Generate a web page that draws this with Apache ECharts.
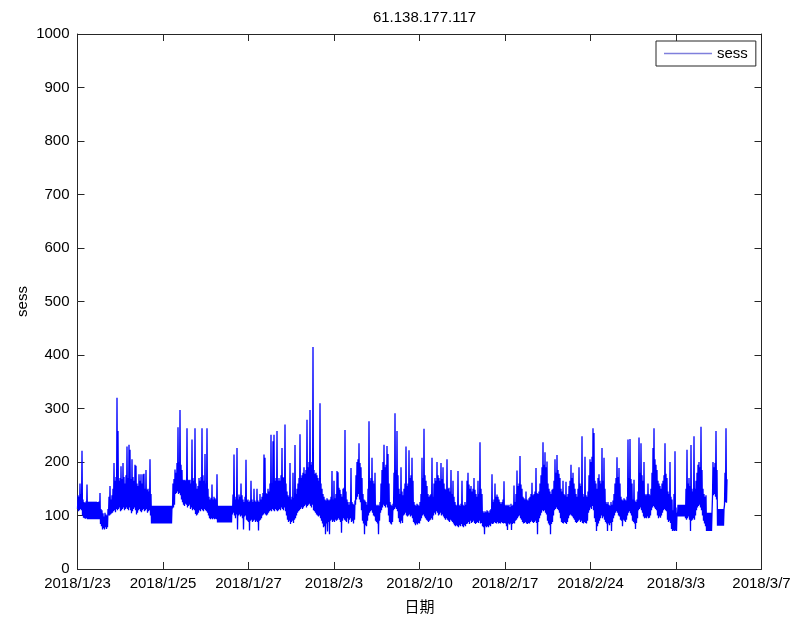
<!DOCTYPE html>
<html>
<head>
<meta charset="utf-8">
<title>61.138.177.117</title>
<script src="https://cdn.jsdelivr.net/npm/echarts@6/dist/echarts.min.js"></script>
<style>
  html, body { margin: 0; padding: 0; background: #fff; }
  #chart { width: 807px; height: 619px; }
</style>
</head>
<body>
<div id="chart"></div>
<script>
// Date labels placed at evenly spaced ticks along the sample axis
const tickLabels = ['2018/1/23', '2018/1/25', '2018/1/27', '2018/2/3', '2018/2/10',
  '2018/2/17', '2018/2/24', '2018/3/3', '2018/3/7'];

// Session counts: lower and upper value reached within each sampling slot
const sessLow = [
  112,108,110,112,110,100,96,95,94,95,
  93,93,93,93,93,93,93,93,93,93,
  93,93,93,84,80,74,76,74,78,75,
  78,100,100,102,104,105,108,110,106,112,
  110,112,115,108,110,112,115,110,112,115,
  112,110,115,110,104,108,112,115,110,102,
  105,110,112,108,106,110,112,108,110,112,
  105,108,110,100,85,85,85,85,85,85,
  85,85,85,85,85,85,85,85,85,85,
  85,85,85,85,85,113,115,120,140,142,
  145,140,142,138,130,125,120,118,122,120,
  115,118,120,112,115,110,112,110,103,100,
  102,105,110,108,112,110,108,112,110,108,
  105,100,95,93,95,93,95,93,94,93,
  87,87,87,87,87,87,87,87,87,87,
  87,87,87,87,87,102,105,100,95,102,
  74,100,102,98,100,95,74,98,100,92,
  90,88,72,90,92,88,90,92,88,90,
  88,72,90,92,95,100,102,104,102,100,
  102,105,108,110,108,112,110,108,112,110,
  108,110,112,110,115,112,110,115,108,100,
  92,88,90,84,88,90,86,92,95,100,
  105,108,110,112,115,112,115,118,120,115,
  118,120,122,118,115,120,110,108,105,102,
  100,98,100,95,90,85,78,80,65,85,
  70,88,65,90,92,88,90,88,92,90,
  92,95,92,88,68,90,95,92,90,88,
  95,85,92,95,88,90,85,92,120,130,
  135,140,130,125,110,90,85,65,82,80,
  90,100,105,108,110,105,100,98,90,88,
  85,65,90,105,110,115,120,118,115,120,
  115,100,88,85,83,88,110,112,115,112,
  108,95,88,85,90,86,100,102,105,100,
  98,100,102,98,100,95,88,85,82,85,
  83,86,85,90,95,100,102,98,95,92,
  90,88,90,92,95,92,100,105,102,108,
  105,100,102,105,100,102,98,95,92,95,
  92,90,88,92,90,88,85,82,80,82,
  80,78,82,80,84,80,78,82,80,84,
  85,88,84,90,86,88,90,86,84,86,
  88,86,90,85,86,80,78,65,80,78,
  80,78,82,80,85,84,85,88,86,85,
  88,85,86,85,88,86,85,86,85,80,
  73,85,83,85,73,84,86,85,90,92,
  95,98,100,95,92,88,85,86,88,85,
  84,86,85,88,90,88,86,88,90,86,
  65,88,95,100,105,110,108,110,105,102,
  90,85,82,65,84,88,100,110,112,115,
  112,110,105,95,88,86,85,88,86,84,
  88,95,100,102,100,98,95,92,88,86,
  88,90,92,88,90,86,85,88,86,85,
  90,105,110,115,112,118,110,95,88,71,
  80,85,90,95,100,95,98,92,88,85,
  71,85,82,86,71,88,95,100,105,108,
  105,100,98,92,90,80,92,90,88,92,
  100,105,108,104,100,90,88,85,75,86,
  95,110,112,115,110,105,98,95,96,95,
  98,95,96,100,110,115,118,115,112,110,
  100,95,98,96,100,105,110,112,110,108,
  92,88,90,86,75,71,72,71,72,71,
  98,98,98,98,98,98,98,98,95,92,
  95,98,92,71,90,92,95,92,100,110,
  115,118,120,115,110,100,90,85,80,71,
  71,71,71,71,71,135,138,140,135,130,
  81,81,81,81,81,81,81,120,125,124
];

const sessHigh = [
  138,135,160,140,221,130,125,124,126,158,
  126,125,126,125,126,125,126,125,126,125,
  125,126,142,112,110,104,98,105,102,100,
  112,135,155,130,138,150,198,165,172,320,
  258,165,170,192,168,198,172,160,175,229,
  170,232,223,168,205,172,165,195,193,160,
  155,177,165,177,160,177,178,150,185,148,
  150,145,205,140,118,118,118,118,118,118,
  118,118,118,118,118,118,118,118,118,118,
  118,118,118,118,118,160,168,186,180,198,
  265,200,297,195,185,167,166,167,165,263,
  167,166,167,160,242,170,165,263,160,150,
  155,170,165,172,263,175,165,215,160,263,
  150,135,130,133,158,130,135,132,130,177,
  118,118,118,118,118,118,118,118,118,118,
  118,118,118,118,118,139,214,135,130,226,
  130,139,135,160,138,130,125,135,204,128,
  130,125,128,165,130,125,150,128,125,150,
  128,125,140,130,135,142,214,208,142,140,
  150,145,160,251,160,239,251,165,170,258,
  165,170,165,175,226,172,170,270,160,145,
  138,135,198,130,135,180,132,232,140,150,
  160,170,252,170,175,180,190,178,185,279,
  190,200,297,195,200,415,185,178,180,175,
  170,165,310,160,150,140,135,130,128,132,
  130,128,130,135,183,130,165,132,140,183,
  181,152,148,140,135,150,152,260,145,130,
  125,120,125,189,125,122,120,128,175,200,
  205,235,198,190,170,140,130,128,125,120,
  150,276,165,170,208,165,160,180,120,118,
  120,118,125,160,185,200,232,190,195,230,
  215,160,125,120,118,122,180,291,185,258,
  175,150,140,190,145,138,150,160,229,155,
  160,222,170,175,208,165,125,120,118,122,
  120,118,125,140,208,170,262,175,165,155,
  140,135,138,140,208,135,160,170,165,200,
  175,170,165,198,168,190,160,150,148,205,
  150,152,145,185,140,165,135,125,120,118,
  183,120,118,122,165,120,118,125,120,165,
  180,158,150,155,145,150,170,148,140,135,
  165,140,237,150,140,108,105,108,106,110,
  108,105,110,112,177,125,130,160,135,139,
  135,130,125,122,125,130,164,120,118,120,
  118,120,116,122,118,120,156,125,140,184,
  155,160,211,158,150,135,132,130,145,130,
  128,132,135,140,161,138,140,145,189,142,
  140,145,160,175,190,237,195,218,190,201,
  160,150,145,140,148,150,165,205,180,213,
  185,178,170,150,145,165,140,138,163,135,
  140,155,165,195,170,180,160,150,140,135,
  150,190,160,155,248,140,135,210,138,135,
  145,175,205,200,210,263,254,165,160,150,
  170,177,165,160,226,165,208,150,125,122,
  125,120,118,125,120,128,140,160,170,209,
  172,189,160,135,130,128,132,130,128,135,
  242,170,243,168,160,130,167,128,125,130,
  145,246,180,235,175,165,200,140,138,140,
  160,140,138,150,180,226,263,205,195,185,
  165,160,155,150,160,165,175,235,178,170,
  145,140,200,135,130,110,140,220,115,105,
  120,120,120,120,120,120,120,120,150,223,
  160,170,155,232,150,145,248,150,165,180,
  195,200,190,266,185,150,140,135,138,105,
  105,105,105,105,105,200,190,198,258,185,
  112,112,112,112,112,112,112,180,263,168
];

// Interleave low/high per slot so the trace sweeps the full range of each slot
const sessPoints = [];
for (let i = 0; i < sessLow.length; i++) {
  sessPoints.push([i, sessLow[i]]);
  sessPoints.push([i + 0.5, sessHigh[i]]);
}

const X_MAX = 684;
const X_STEP = X_MAX / (tickLabels.length - 1);
const AXIS_COLOR = '#262626';
const FONT = '"Liberation Sans", Arial, Helvetica, sans-serif';

const chart = echarts.init(document.getElementById('chart'), null, { renderer: 'canvas' });

// Boxed frame: every side carries an axis line with inward ticks
function frameAxis(extra) {
  return Object.assign({
    axisLine: { show: true, onZero: false, lineStyle: { color: AXIS_COLOR, width: 1 } },
    axisTick: { show: true, inside: true, length: 7, lineStyle: { color: AXIS_COLOR } },
    splitLine: { show: false }
  }, extra);
}

chart.setOption({
  animation: false,
  backgroundColor: '#ffffff',
  title: {
    text: '61.138.177.117',
    left: 419.5,
    top: 5,
    textAlign: 'center',
    textStyle: { fontFamily: FONT, fontSize: 15, fontWeight: 'normal', color: '#000' }
  },
  legend: {
    data: [{ name: 'sess', icon: 'rect', itemStyle: { color: '#7f7fdc' } }],
    left: 656,
    top: 41,
    padding: [5, 8, 5, 8],
    itemWidth: 48,
    itemHeight: 1.5,
    borderColor: AXIS_COLOR,
    borderWidth: 1,
    backgroundColor: '#fff',
    textStyle: { fontFamily: FONT, fontSize: 15, color: '#000' }
  },
  grid: { left: 77.5, right: 45.5, top: 34, bottom: 47.3, containLabel: false },
  xAxis: [
    frameAxis({
      type: 'value',
      min: 0,
      max: X_MAX,
      interval: X_STEP,
      position: 'bottom',
      name: '日期',
      nameLocation: 'middle',
      nameGap: 30,
      nameTextStyle: { fontFamily: '"Noto Sans CJK SC", sans-serif', fontSize: 15, color: '#000' },
      axisLabel: {
        show: true,
        margin: 7,
        showMinLabel: true,
        showMaxLabel: true,
        fontFamily: FONT,
        fontSize: 15,
        color: '#000',
        formatter: (v) => tickLabels[Math.round(v / X_STEP)] || ''
      }
    }),
    frameAxis({
      type: 'value',
      min: 0,
      max: X_MAX,
      interval: X_STEP,
      position: 'top',
      axisLabel: { show: false }
    })
  ],
  yAxis: [
    frameAxis({
      type: 'value',
      min: 0,
      max: 1000,
      interval: 100,
      position: 'left',
      name: 'sess',
      nameLocation: 'middle',
      nameGap: 47,
      nameMoveOverlap: false,
      nameTextStyle: { fontFamily: FONT, fontSize: 15, color: '#000' },
      axisLabel: {
        show: true, margin: 8, fontFamily: FONT, fontSize: 15, color: '#000',
        formatter: (v) => String(v)
      }
    }),
    frameAxis({
      type: 'value',
      min: 0,
      max: 1000,
      interval: 100,
      position: 'right',
      axisLabel: { show: false }
    })
  ],
  series: [{
    name: 'sess',
    type: 'line',
    xAxisIndex: 0,
    yAxisIndex: 0,
    data: sessPoints,
    showSymbol: false,
    symbol: 'none',
    sampling: null,
    silent: true,
    lineStyle: { color: '#0000ff', width: 1.3 },
    itemStyle: { color: '#0000ff' }
  }]
});
</script>
</body>
</html>
